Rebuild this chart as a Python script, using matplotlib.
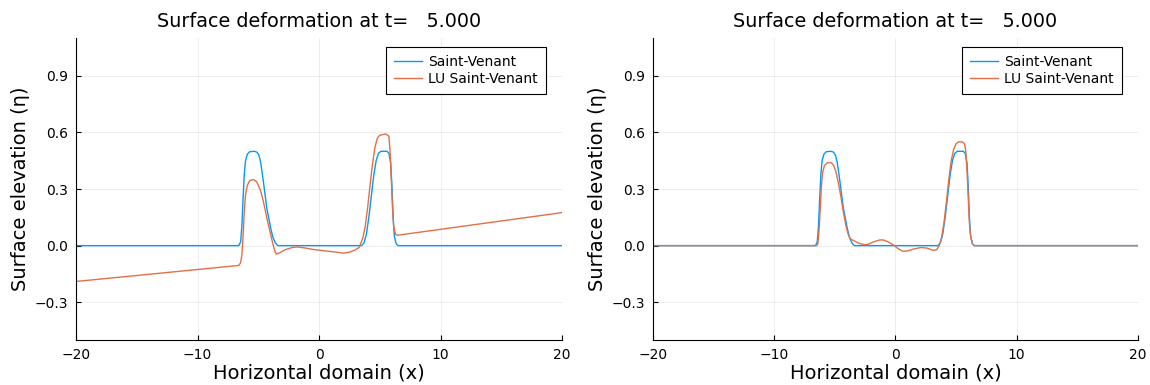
import matplotlib.pyplot as plt
import numpy as np

# Saint-Venant solution (same in both panels)
x_sv = [-20, -6.6, -6.45, -6.35, -6.25, -6.15, -6.05, -5.9, -5.7, -5.3, -5.1, -4.95,
        -4.8, -4.6, -4.3, -4.0, -3.8, -3.6, -3.4,
        3.5, 3.7, 3.9, 4.1, 4.3, 4.5, 4.7, 4.9, 5.1, 5.6, 5.75, 5.9, 6.0, 6.1, 6.2,
        6.35, 6.5, 20]
y_sv = [0, 0, 0.02, 0.1, 0.25, 0.38, 0.45, 0.485, 0.498, 0.5, 0.495, 0.48,
        0.44, 0.35, 0.2, 0.1, 0.045, 0.015, 0,
        0, 0.015, 0.06, 0.15, 0.26, 0.37, 0.45, 0.49, 0.5, 0.5, 0.49, 0.44, 0.32, 0.15, 0.05,
        0.01, 0, 0]

# LU Saint-Venant, left panel
x_lu1 = [-20, -6.6, -6.45, -6.35, -6.25, -6.15, -6.05, -5.9, -5.7, -5.4, -5.15, -5.0,
         -4.8, -4.6, -4.4, -4.2, -4.0, -3.8, -3.6, -3.5, -3.3, -2.8, -2.2, -1.8, -1.2,
         -0.5, 0.5, 1.5, 2.0, 2.5, 3.0, 3.3, 3.6, 3.8, 4.0, 4.2, 4.4, 4.6, 4.8, 5.0,
         5.5, 5.75, 5.85, 5.95, 6.05, 6.15, 6.3, 6.45, 20]
y_lu1 = [-0.19, -0.105, -0.09, -0.05, 0.05, 0.18, 0.27, 0.32, 0.345, 0.35, 0.34, 0.32,
         0.29, 0.24, 0.18, 0.12, 0.065, 0.01, -0.035, -0.045, -0.04, -0.022, -0.01, -0.007, -0.012,
         -0.02, -0.028, -0.035, -0.04, -0.035, -0.022, -0.01, 0.04, 0.1, 0.2, 0.32, 0.43, 0.52, 0.57, 0.585,
         0.592, 0.58, 0.5, 0.35, 0.2, 0.1, 0.06, 0.055, 0.175]

# LU Saint-Venant, right panel
x_lu2 = [-20, -6.5, -6.4, -6.3, -6.2, -6.1, -6.0, -5.85, -5.6, -5.3, -5.1, -4.9, -4.7,
         -4.5, -4.3, -4.1, -3.9, -3.7, -3.4, -3.0, -2.6, -2.3, -1.8, -1.3, -1.0, -0.6,
         -0.2, 0.2, 0.6, 1.0, 1.5, 2.1, 2.6, 3.1, 3.4, 3.6, 3.8, 4.0, 4.2, 4.4, 4.6,
         4.8, 5.0, 5.2, 5.5, 5.7, 5.8, 5.9, 6.0, 6.1, 6.2, 6.35, 6.5, 20]
y_lu2 = [0, 0, 0.01, 0.08, 0.2, 0.32, 0.39, 0.425, 0.44, 0.44, 0.425, 0.39, 0.33,
         0.26, 0.18, 0.11, 0.06, 0.035, 0.025, 0.012, 0.005, 0.006, 0.02, 0.03, 0.03, 0.02,
         0.005, -0.015, -0.03, -0.028, -0.018, -0.01, -0.013, -0.025, -0.022, 0.0, 0.04, 0.12, 0.23, 0.35, 0.45,
         0.51, 0.54, 0.55, 0.55, 0.54, 0.5, 0.4, 0.26, 0.12, 0.05, 0.01, 0, 0]

xticks = [-20, -10, 0, 10, 20]
yticks = [-0.3, 0.0, 0.3, 0.6, 0.9]
title = "Surface deformation at t=   5.000"

blue = "#009AFA"
orange = "#E36F47"

fig = plt.figure(figsize=(11.5, 3.85), dpi=100)
ax1 = fig.add_axes([0.0661, 0.117, 0.4226, 0.784])
ax2 = fig.add_axes([0.5678, 0.117, 0.4217, 0.784])

for ax, xl, yl in [(ax1, x_lu1, y_lu1), (ax2, x_lu2, y_lu2)]:
    ax.plot(x_sv, y_sv, color=blue, lw=1.0, label="Saint-Venant")
    ax.plot(xl, yl, color=orange, lw=1.0, label="LU Saint-Venant")
    ax.set_xlim(-20, 20)
    ax.set_ylim(-0.5, 1.1)
    ax.set_xticks(xticks)
    ax.set_yticks(yticks)
    ax.set_yticklabels([f"{v:.1f}".replace("-", "\u2212") for v in yticks])
    ax.grid(True, color="black", alpha=0.1, lw=0.5)
    ax.tick_params(direction="in", length=3.5, width=0.8, labelsize=10, pad=6)
    for s in ["top", "right"]:
        ax.spines[s].set_visible(False)
    ax.set_title(title, fontsize=13.8, pad=8)
    ax.set_xlabel("Horizontal domain (x)", fontsize=14, labelpad=1)
    ax.set_ylabel("Surface elevation (η)", fontsize=14, labelpad=3)
    leg = ax.legend(loc="upper right", bbox_to_anchor=(0.968, 0.972), fontsize=10,
                    fancybox=False, edgecolor="black", framealpha=1,
                    handlelength=2.0, borderpad=0.6, labelspacing=0.2,
                    handletextpad=0.45, borderaxespad=0)
    leg.get_frame().set_linewidth(0.8)

fig.savefig("out.png", dpi=100)
